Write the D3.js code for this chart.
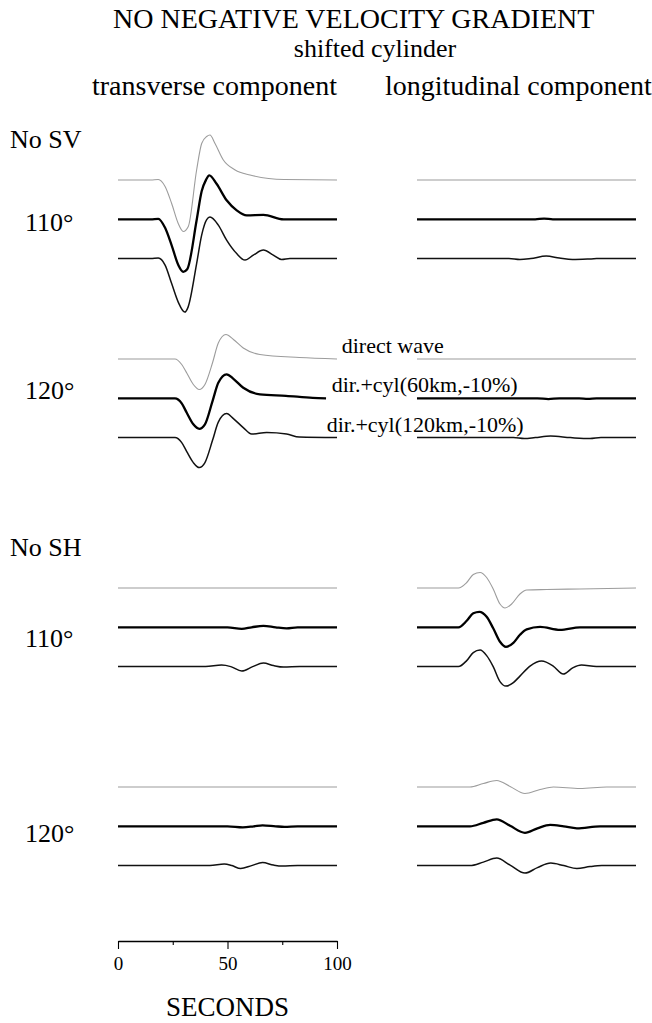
<!DOCTYPE html>
<html>
<head>
<meta charset="utf-8">
<script src="https://cdn.jsdelivr.net/npm/d3@7"></script>
<style>
  body { margin: 0; background: #fff; }
  svg text { font-family: "Liberation Serif", "Times New Roman", serif; fill: #000; }
</style>
</head>
<body>
<div id="chart"></div>
<script>
/* -------------------------------------------------------
   DATA  — [seconds, relative amplitude]
   order in each panel: direct wave, +cyl 60 km, +cyl 120 km
------------------------------------------------------- */

const distances = ["110°", "120°"];
const cases = ["No SV", "No SH"];
const traceLabels = ["direct wave", "dir.+cyl(60km,-10%)", "dir.+cyl(120km,-10%)"];
const columnTitles = ["transverse component", "longitudinal component"];
const xTicks = [0, 50, 100];
const xMinorTicks = [25, 75];

// No SV, 110°, transverse
const svTrans110 = [
    [[0,0],[15,0],[18.4,0.01],[21.5,-0.13],[24.5,-0.47],[27.5,-0.87],[29.8,-1.03],[32.1,-0.93],[35.9,0.2],[38.2,0.73],[40.5,0.87],[42,0.9],[44.3,0.73],[48.1,0.4],[53.5,0.2],[60.3,0.1],[75.9,0.01],[100,0]],
    [[0,0],[15,0],[18.4,0.01],[21.5,-0.17],[24.5,-0.52],[27.5,-0.91],[29.8,-1.05],[31.6,-1.0],[35.9,-0.02],[38.2,0.56],[40.2,0.79],[41.7,0.88],[45,0.71],[49.6,0.38],[54.2,0.18],[58.8,0.08],[66.4,0.09],[75.6,0],[100,0]],
    [[0,0],[15,0],[18.4,0.01],[21.5,-0.13],[24.5,-0.5],[27.5,-0.87],[30.5,-1.07],[32,-0.97],[35.9,-0.1],[38.2,0.47],[40.5,0.78],[42,0.83],[45.8,0.67],[49.6,0.37],[54.2,0.1],[58,-0.03],[61.8,0.07],[66.4,0.17],[70.9,0.07],[74.7,-0.02],[78.5,0],[100,0]]
];
// No SV, 110°, longitudinal
const svLong110 = [
    [[0,0],[100,0]],
    [[0,0],[54,0],[58,0.015],[62,0],[100,0]],
    [[0,0],[42,0],[47,-0.02],[52,0],[59,0.05],[65,0.01],[71,-0.02],[78,-0.01],[82,0],[100,0]]
];
// No SV, 120°, transverse
const svTrans120 = [
    [[0,0],[26,0],[29.1,-0.11],[31.4,-0.28],[34.4,-0.51],[37.1,-0.61],[39.7,-0.51],[43.2,-0.07],[45.8,0.32],[49.3,0.49],[52.7,0.39],[57.2,0.22],[64.8,0.09],[82.8,0.03],[100,0]],
    [[0,0],[26,0],[29.1,-0.1],[31.4,-0.29],[34.4,-0.52],[37.1,-0.61],[39.7,-0.52],[43.2,-0.05],[45.8,0.31],[49.6,0.48],[52.7,0.39],[57.2,0.21],[64.8,0.08],[76.7,0.05],[88.9,0.01],[95,0]],
    [[0,0],[26,0],[29.1,-0.1],[31.4,-0.28],[34.4,-0.5],[37.1,-0.6],[39.7,-0.5],[43.2,-0.05],[45.8,0.31],[49.6,0.48],[52.7,0.38],[57.2,0.2],[61,0.07],[67.9,0.1],[77,0.07],[82.8,0.01],[100,0]]
];
// No SV, 120°, longitudinal
const svLong120 = [
    [[0,0],[100,0]],
    [[0,0],[55,0],[60,-0.015],[65,0],[74,0],[78,-0.01],[82,0],[100,0]],
    [[0,0],[44,0],[49,-0.02],[54,0],[61,0.03],[70,0],[79,-0.02],[84,0],[100,0]]
];
// No SH, 110°, transverse
const shTrans110 = [
    [[0,0],[100,0]],
    [[0,0],[50,0],[56.5,-0.03],[61,0],[66.4,0.03],[72,0],[77,-0.02],[82,0],[100,0]],
    [[0,0],[40,0],[47.3,0.03],[51.5,0],[56.5,-0.09],[61.5,0],[66.4,0.07],[71,0.02],[75.6,-0.01],[83,0],[100,0]]
];
// No SH, 110°, longitudinal
const shLong110 = [
    [[0,0],[18.9,0],[22.7,0.11],[25.7,0.27],[28.8,0.31],[31.8,0.21],[34.8,-0.02],[37.9,-0.32],[40.2,-0.4],[43.2,-0.32],[47,-0.12],[50.1,-0.04],[59.2,-0.03],[74.4,-0.02],[100,0]],
    [[0,0],[18.9,0],[22.7,0.13],[25.7,0.28],[28.5,0.31],[31.8,0.21],[34.8,-0.02],[37.9,-0.29],[40.6,-0.39],[44,-0.31],[47,-0.15],[50.1,-0.04],[56.2,0.01],[65.3,-0.05],[74.4,0],[100,0]],
    [[0,0],[18.9,0],[22.7,0.12],[25.7,0.28],[28.8,0.33],[31.8,0.22],[34.8,0],[37.9,-0.3],[40.6,-0.39],[44,-0.32],[47,-0.19],[51.6,0.01],[56.9,0.11],[62.2,0.01],[66.8,-0.15],[71.3,-0.02],[75.1,0.03],[81.9,0],[100,0]]
];
// No SH, 120°, transverse
const shTrans120 = [
    [[0,0],[100,0]],
    [[0,0],[50,0],[57,-0.02],[62,0],[66,0.02],[72,0],[76,-0.01],[82,0],[100,0]],
    [[0,0],[42,0],[48.5,0.03],[52,0],[56,-0.06],[61,0],[66,0.06],[71,0.01],[75,-0.01],[82,0],[100,0]]
];
// No SH, 120°, longitudinal
const shLong120 = [
    [[0,0],[24.2,0],[30.3,0.07],[36.4,0.13],[42.5,0.01],[49.3,-0.13],[56.2,-0.05],[62.3,0],[74.4,-0.03],[86.6,0],[100,0]],
    [[0,0],[24.2,0],[30.3,0.07],[36.4,0.14],[42.5,0.01],[49.3,-0.13],[55,-0.04],[60.8,0.03],[67,0],[73,-0.04],[83.6,0],[100,0]],
    [[0,0],[24.2,0],[30.3,0.07],[36.4,0.15],[42.5,0.01],[49.3,-0.15],[55,-0.04],[61.1,0.05],[67,0],[73,-0.06],[79,-0.02],[84.4,0],[100,0]]
];

/* -------------------------------------------------------
   LAYOUT
------------------------------------------------------- */

const width = 652;
const height = 1023;

const svg = d3.select("#chart")
    .append("svg")
    .attr("width", width)
    .attr("height", height);

const xTrans = d3.scaleLinear().domain([0, 100]).range([118, 337]);
const xLong = d3.scaleLinear().domain([0, 100]).range([417, 636]);
const amp = d3.scaleLinear().domain([-1, 1]).range([50, -50]);

const rowGap = 39.3;
const groups = [
    { y: 180, label: 231, trans: svTrans110, long: svLong110 },
    { y: 359, label: 399, trans: svTrans120, long: svLong120 },
    { y: 588, label: 647, trans: shTrans110, long: shLong110 },
    { y: 787, label: 842, trans: shTrans120, long: shLong120 }
];

const traceStyle = [
    { stroke: "#9c9c9c", width: 1.1 },
    { stroke: "#000", width: 2.3 },
    { stroke: "#111", width: 1.5 }
];

/* -------------------------------------------------------
   TRACES
------------------------------------------------------- */

function drawPanel(traces, x, y0) {
    traces.forEach((trace, i) => {
        const base = y0 + i * rowGap;
        const line = d3.line()
            .x(d => x(d[0]))
            .y(d => base + amp(d[1]))
            .curve(d3.curveMonotoneX);

        svg.append("path")
            .datum(trace)
            .attr("d", line)
            .attr("fill", "none")
            .attr("stroke", traceStyle[i].stroke)
            .attr("stroke-width", traceStyle[i].width)
            .attr("stroke-linejoin", "round");
    });
}

groups.forEach(g => {
    drawPanel(g.trans, xTrans, g.y);
    drawPanel(g.long, xLong, g.y);
});

/* -------------------------------------------------------
   TEXT
------------------------------------------------------- */

svg.append("text")
    .attr("x", 113).attr("y", 28)
    .attr("font-size", 28)
    .text("NO NEGATIVE VELOCITY GRADIENT");

svg.append("text")
    .attr("x", 375).attr("y", 57)
    .attr("text-anchor", "middle")
    .attr("font-size", 26)
    .text("shifted cylinder");

svg.append("text")
    .attr("x", 92).attr("y", 95)
    .attr("font-size", 28)
    .text(columnTitles[0]);

svg.append("text")
    .attr("x", 385).attr("y", 95)
    .attr("font-size", 28)
    .text(columnTitles[1]);

// case labels
[148, 556].forEach((y, i) => {
    svg.append("text")
        .attr("x", 10).attr("y", y)
        .attr("font-size", 26)
        .text(cases[i]);
});

// distance labels
groups.forEach((g, i) => {
    svg.append("text")
        .attr("x", 25).attr("y", g.label)
        .attr("font-size", 26)
        .text(distances[i % 2]);
});

// trace legend inside the 120° No SV group
[341.7, 331.7, 326.7].forEach((x, i) => {
    svg.append("text")
        .attr("x", x).attr("y", groups[1].y + i * rowGap - 6)
        .attr("font-size", 22)
        .text(traceLabels[i]);
});

/* -------------------------------------------------------
   AXIS
------------------------------------------------------- */

const axisY = 941;

const axis = svg.append("g")
    .attr("transform", `translate(0,${axisY})`)
    .call(d3.axisBottom(xTrans).tickValues(xTicks).tickSize(8).tickSizeOuter(0).tickPadding(8));

axis.select(".domain").attr("stroke", "#000").attr("stroke-width", 1.3);
axis.selectAll(".tick line").attr("stroke", "#000").attr("stroke-width", 1.1);
axis.selectAll(".tick text")
    .attr("font-family", "'Liberation Sans', Arial, sans-serif")
    .attr("font-size", 19)
    .style("fill", "#000");

svg.append("g")
    .attr("transform", `translate(0,${axisY})`)
    .call(d3.axisBottom(xTrans).tickValues(xMinorTicks).tickSize(4).tickSizeOuter(0).tickFormat(""))
    .call(g => g.select(".domain").remove())
    .selectAll(".tick line").attr("stroke", "#000").attr("stroke-width", 1.1);

svg.append("text")
    .attr("x", xTrans(50)).attr("y", 1016)
    .attr("text-anchor", "middle")
    .attr("font-size", 27)
    .text("SECONDS");
</script>
</body>
</html>
